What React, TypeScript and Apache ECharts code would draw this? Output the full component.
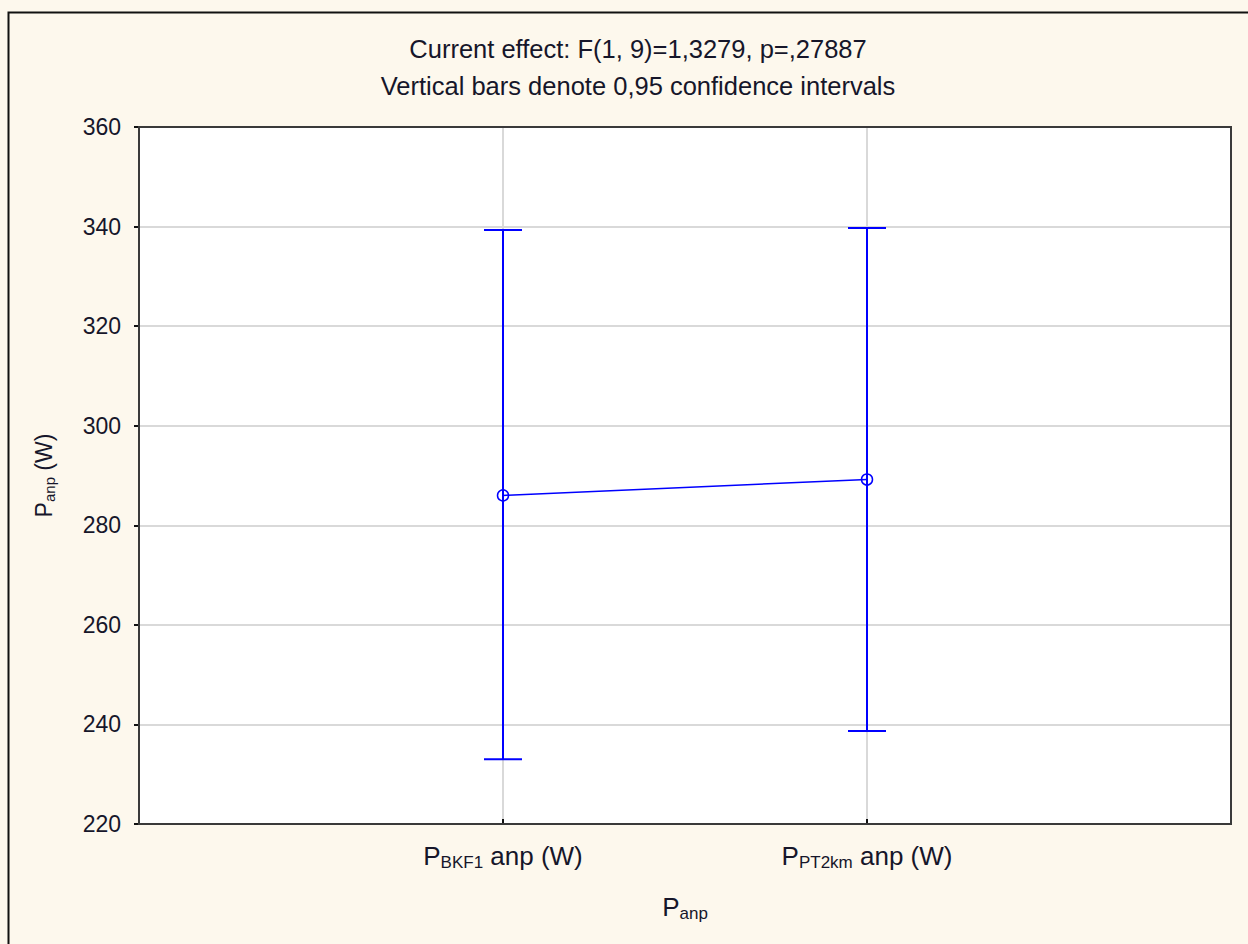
import React, { useEffect, useRef } from "react";
import * as echarts from "echarts";

const categories = ["BKF1", "PT2km"];
const xPositions = [1, 2];
const means = [286.0, 289.2];
const lowerCI = [233.0, 238.7];
const upperCI = [339.3, 339.7];
const yTicks = { min: 220, max: 360, interval: 20 };
const titleLines = [
  "Current effect: F(1, 9)=1,3279, p=,27887",
  "Vertical bars denote 0,95 confidence intervals",
];

const FONT = "Liberation Sans, Arial, sans-serif";
const TEXT = "#16162a";
const BLUE = "#0000ff";

const GRID = { left: 139, top: 127, right: 1231, bottom: 824 };

export default function App() {
  const ref = useRef<HTMLDivElement>(null);
  useEffect(() => {
    if (!ref.current) return;
    const chart = echarts.init(ref.current, null, { renderer: "svg" });
    const barData = xPositions.map((x, i) => [x, lowerCI[i], upperCI[i]]);
    const richLarge = {
      p: { fontSize: 26, color: TEXT, fontFamily: FONT },
      s: { fontSize: 17, color: TEXT, fontFamily: FONT, padding: [13, 0, 0, 0] },
    };
    const option: any = {
      animation: false,
      backgroundColor: "#fdf8ed",
      textStyle: { fontFamily: FONT },
      title: {
        text: titleLines.join("\n"),
        left: 633,
        textAlign: "center",
        top: 25,
        textStyle: {
          fontFamily: FONT,
          fontSize: 25.5,
          fontWeight: "normal",
          color: TEXT,
          lineHeight: 37,
        },
      },
      graphic: [
        {
          type: "rect",
          shape: { x: 8.5, y: 12.5, width: 1300, height: 1000 },
          style: { fill: "none", stroke: "#111", lineWidth: 2 },
          silent: true,
          z: 100,
        },
        {
          type: "rect",
          shape: {
            x: GRID.left,
            y: GRID.top,
            width: GRID.right - GRID.left,
            height: GRID.bottom - GRID.top,
          },
          style: { fill: "none", stroke: "#3a3a3a", lineWidth: 2 },
          silent: true,
          z: 100,
        },
      ],
      grid: {
        left: GRID.left,
        top: GRID.top,
        right: 1248 - GRID.right,
        bottom: 944 - GRID.bottom,
        show: true,
        backgroundColor: "#ffffff",
        borderWidth: 0,
      },
      xAxis: {
        type: "value",
        min: 0,
        max: 3,
        interval: 1,
        name: "{p|P}{s|anp}",
        nameLocation: "middle",
        nameGap: 68,
        nameTextStyle: { rich: richLarge },
        axisLine: { show: false },
        axisTick: {
          show: true,
          inside: true,
          length: 5,
          lineStyle: { color: "#111", width: 2 },
        },
        splitLine: { show: true, lineStyle: { color: "#d9d9d9", width: 2 } },
        axisLabel: {
          margin: 17,
          formatter: (v: number) => {
            const i = xPositions.indexOf(v);
            return i >= 0 ? `{p|P}{s|${categories[i]}}{p| anp (W)}` : "";
          },
          rich: richLarge,
        },
      },
      yAxis: {
        type: "value",
        min: yTicks.min,
        max: yTicks.max,
        interval: yTicks.interval,
        name: "{p|P}{s|anp}{p| (W)}",
        nameLocation: "middle",
        nameGap: 82,
        nameRotate: 90,
        nameTextStyle: {
          rich: {
            p: { fontSize: 23, color: TEXT, fontFamily: FONT },
            s: { fontSize: 15, color: TEXT, fontFamily: FONT, padding: [12, 0, 0, 0] },
          },
        },
        axisLine: { show: false },
        axisTick: {
          show: true,
          inside: false,
          length: 5,
          lineStyle: { color: "#111", width: 2 },
        },
        splitLine: { show: true, lineStyle: { color: "#d9d9d9", width: 2 } },
        axisLabel: {
          margin: 18,
          fontSize: 23,
          color: TEXT,
          fontFamily: FONT,
        },
      },
      series: [
        {
          type: "custom",
          data: barData,
          z: 2,
          renderItem: (params: any, api: any) => {
            const x = api.value(0);
            const lo = api.coord([x, api.value(1)]);
            const hi = api.coord([x, api.value(2)]);
            const hw = 19;
            const style = { stroke: BLUE, lineWidth: 2 };
            return {
              type: "group",
              children: [
                { type: "line", shape: { x1: lo[0], y1: lo[1], x2: hi[0], y2: hi[1] }, style },
                { type: "line", shape: { x1: lo[0] - hw, y1: lo[1], x2: lo[0] + hw, y2: lo[1] }, style },
                { type: "line", shape: { x1: hi[0] - hw, y1: hi[1], x2: hi[0] + hw, y2: hi[1] }, style },
              ],
            };
          },
        },
        {
          type: "line",
          data: xPositions.map((x, i) => [x, means[i]]),
          z: 3,
          symbol: "circle",
          symbolSize: 11,
          lineStyle: { color: BLUE, width: 1.5 },
          itemStyle: { color: "rgba(0,0,0,0)", borderColor: BLUE, borderWidth: 1.5 },
        },
      ],
    };
    chart.setOption(option);
    return () => chart.dispose();
  }, []);
  return (
    <div
      ref={ref}
      style={{ position: "absolute", left: 0, top: 0, width: 1248, height: 944 }}
    />
  );
}
